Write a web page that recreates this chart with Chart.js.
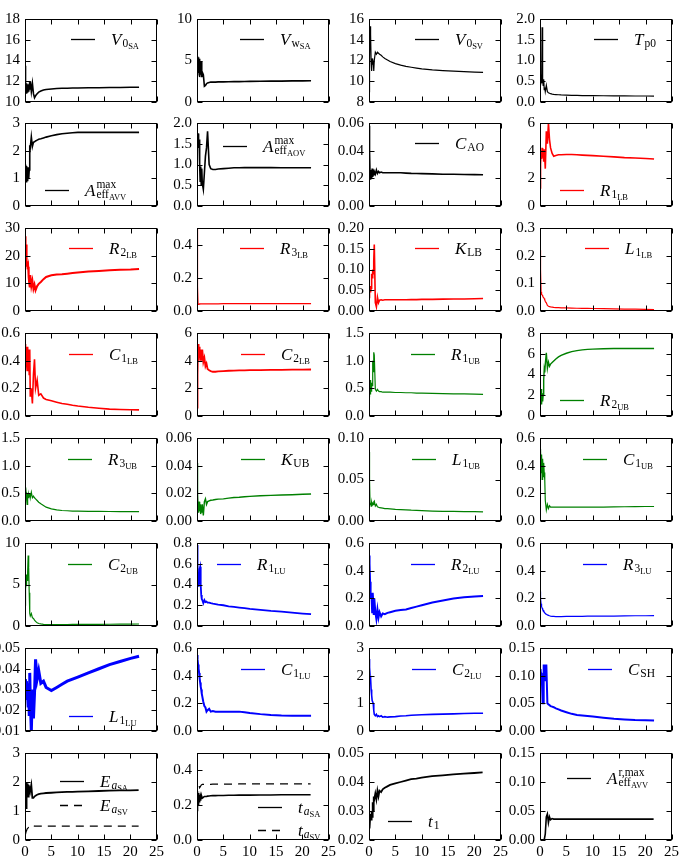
<!DOCTYPE html>
<html>
<head>
<meta charset="utf-8">
<script src="https://cdn.jsdelivr.net/npm/chart.js@4.4.0/dist/chart.umd.min.js"></script>
<style>
  html, body { margin: 0; padding: 0; background: #fff; }
  body { position: relative; width: 679px; height: 861px; overflow: hidden; }
  canvas { position: absolute; }
</style>
</head>
<body>
<script>
// ---------- Data ----------
const T = [0, 0.1, 0.2, 0.3, 0.4, 0.5, 0.6, 0.7, 0.8, 0.9, 1.0, 1.2, 1.4, 1.6, 1.8, 2.0, 2.3, 2.6, 3, 3.5, 4, 5, 6, 7, 8, 9, 10, 12, 14, 16, 18, 20, 21.6];
const X_TICKS = [0, 5, 10, 15, 20, 25];

const V0SA = [13.5, 11.0, 11.8, 10.8, 11.6, 10.9, 11.7, 11.0, 11.5, 11.2, 12.0, 11.0, 11.8, 10.8, 10.4, 10.6, 10.8, 10.95, 11.05, 11.15, 11.2, 11.25, 11.3, 11.32, 11.33, 11.35, 11.35, 11.37, 11.38, 11.4, 11.4, 11.42, 11.42];
const VWSA = [5.5, 3.2, 5.4, 3.5, 5.2, 3.0, 4.8, 3.3, 4.9, 3.0, 3.6, 3.3, 1.9, 2.0, 2.2, 2.3, 2.35, 2.4, 2.4, 2.4, 2.42, 2.43, 2.44, 2.45, 2.46, 2.47, 2.48, 2.5, 2.51, 2.52, 2.54, 2.55, 2.56];
const V0SV = [9.0, 12.0, 15.3, 14.5, 12.0, 11.0, 12.2, 11.6, 12.0, 11.0, 12.0, 12.8, 12.6, 12.8, 12.7, 12.6, 12.5, 12.35, 12.2, 12.05, 11.9, 11.7, 11.55, 11.43, 11.35, 11.27, 11.2, 11.1, 11.03, 10.97, 10.92, 10.88, 10.85];
const TP0 = [0.6, 0.4, 0.55, 0.45, 1.8, 0.5, 0.4, 0.55, 0.3, 0.35, 0.25, 0.4, 0.25, 0.22, 0.21, 0.2, 0.19, 0.185, 0.18, 0.175, 0.17, 0.165, 0.16, 0.158, 0.155, 0.153, 0.152, 0.15, 0.148, 0.146, 0.145, 0.144, 0.143];
const AEFF_AVV = [1.5, 1.0, 1.45, 0.85, 1.4, 0.9, 1.4, 1.0, 1.3, 2.2, 2.1, 2.5, 2.15, 2.3, 2.32, 2.35, 2.38, 2.41, 2.43, 2.46, 2.49, 2.54, 2.58, 2.61, 2.63, 2.65, 2.66, 2.66, 2.66, 2.66, 2.66, 2.66, 2.66];
const AEFF_AOV = [1.7, 1.45, 1.75, 1.4, 1.6, 1.0, 0.6, 0.95, 0.5, 0.9, 0.55, 0.4, 0.8, 1.2, 1.4, 1.8, 1.0, 0.9, 0.88, 0.88, 0.89, 0.9, 0.91, 0.92, 0.92, 0.925, 0.925, 0.925, 0.925, 0.92, 0.92, 0.92, 0.92];
const C_AO = [0.058, 0.04, 0.022, 0.019, 0.026, 0.02, 0.027, 0.021, 0.026, 0.022, 0.025, 0.023, 0.026, 0.0235, 0.025, 0.024, 0.0245, 0.024, 0.024, 0.024, 0.024, 0.024, 0.024, 0.0238, 0.0236, 0.0235, 0.0234, 0.0232, 0.023, 0.0229, 0.0228, 0.0227, 0.0226];
const R1_LB = [1.3, 3.0, 4.0, 3.4, 4.2, 3.5, 4.0, 3.2, 4.1, 3.5, 2.7, 5.4, 4.5, 6.0, 4.8, 4.2, 3.8, 3.6, 3.65, 3.7, 3.7, 3.72, 3.72, 3.7, 3.68, 3.66, 3.64, 3.6, 3.55, 3.5, 3.47, 3.43, 3.4];
const R2_LB = [27, 19, 24, 16, 18, 15, 16, 12, 10, 8.5, 13, 9, 11, 8, 9.5, 7.5, 9, 9.8, 10.5, 11.5, 12.3, 12.9, 13.2, 13.3, 13.5, 13.7, 13.9, 14.3, 14.5, 14.7, 14.9, 15.0, 15.2];
const R3_LB = [0.5, 0.15, 0.04, 0.042, 0.042, 0.043, 0.043, 0.043, 0.043, 0.043, 0.043, 0.043, 0.043, 0.043, 0.043, 0.043, 0.043, 0.043, 0.043, 0.043, 0.043, 0.044, 0.044, 0.044, 0.044, 0.044, 0.044, 0.044, 0.044, 0.044, 0.044, 0.044, 0.044];
const K_LB = [0.05, 0.045, 0.06, 0.045, 0.055, 0.09, 0.08, 0.1, 0.09, 0.12, 0.16, 0.02, 0.01, 0.033, 0.02, 0.026, 0.027, 0.026, 0.027, 0.027, 0.027, 0.027, 0.027, 0.027, 0.0275, 0.0275, 0.028, 0.028, 0.0285, 0.029, 0.029, 0.0295, 0.03];
const L1_LB = [0.22, 0.15, 0.07, 0.06, 0.058, 0.055, 0.05, 0.048, 0.045, 0.04, 0.035, 0.03, 0.02, 0.017, 0.016, 0.015, 0.014, 0.013, 0.012, 0.012, 0.011, 0.011, 0.0105, 0.01, 0.0098, 0.0095, 0.009, 0.0085, 0.008, 0.007, 0.0065, 0.006, 0.0055];
const C1_LB = [0.52, 0.4, 0.5, 0.38, 0.33, 0.5, 0.35, 0.48, 0.3, 0.48, 0.14, 0.2, 0.09, 0.3, 0.41, 0.2, 0.26, 0.15, 0.16, 0.13, 0.12, 0.11, 0.1, 0.09, 0.085, 0.078, 0.072, 0.063, 0.056, 0.05, 0.047, 0.045, 0.044];
const C2_LB = [0.6, 3.0, 5.2, 4.0, 5.0, 4.2, 4.8, 4.0, 4.6, 4.0, 4.8, 3.9, 4.2, 3.6, 3.8, 3.4, 3.3, 3.25, 3.2, 3.2, 3.22, 3.25, 3.27, 3.28, 3.3, 3.3, 3.31, 3.32, 3.33, 3.34, 3.35, 3.35, 3.36];
const R1_UB = [0.35, 0.6, 0.4, 0.65, 0.45, 0.6, 0.55, 1.0, 0.8, 1.15, 1.1, 0.48, 0.45, 0.48, 0.45, 0.44, 0.44, 0.43, 0.43, 0.43, 0.43, 0.425, 0.425, 0.42, 0.42, 0.415, 0.415, 0.41, 0.405, 0.4, 0.4, 0.395, 0.39];
const R2_UB = [2.5, 1.2, 2.6, 1.1, 2.2, 1.4, 2.0, 3.5, 4.5, 4.2, 5.0, 6.1, 4.6, 5.2, 4.8, 5.0, 5.15, 5.3, 5.5, 5.7, 5.85, 6.05, 6.2, 6.3, 6.37, 6.42, 6.45, 6.48, 6.5, 6.5, 6.5, 6.5, 6.5];
const R3_UB = [0.58, 0.45, 0.52, 0.4, 0.3, 0.5, 0.42, 0.48, 0.44, 0.5, 0.42, 0.52, 0.42, 0.45, 0.42, 0.4, 0.37, 0.34, 0.31, 0.28, 0.25, 0.22, 0.2, 0.19, 0.185, 0.18, 0.178, 0.175, 0.173, 0.172, 0.171, 0.17, 0.17];
const K_UB = [0.042, 0.02, 0.01, 0.006, 0.014, 0.007, 0.012, 0.005, 0.01, 0.006, 0.012, 0.004, 0.014, 0.016, 0.012, 0.014, 0.0145, 0.015, 0.0152, 0.0155, 0.0158, 0.016, 0.0165, 0.017, 0.0172, 0.0175, 0.0178, 0.0182, 0.0185, 0.0188, 0.019, 0.0193, 0.0195];
const L1_UB = [0.083, 0.05, 0.02, 0.022, 0.018, 0.022, 0.019, 0.021, 0.02, 0.023, 0.024, 0.018, 0.02, 0.017, 0.0165, 0.016, 0.0158, 0.0155, 0.015, 0.0148, 0.0145, 0.014, 0.0137, 0.0134, 0.013, 0.0128, 0.0125, 0.012, 0.0117, 0.0115, 0.0113, 0.0112, 0.011];
const C1_UB = [0.5, 0.52, 0.35, 0.48, 0.3, 0.45, 0.32, 0.42, 0.35, 0.3, 0.15, 0.08, 0.12, 0.09, 0.11, 0.1, 0.1, 0.1, 0.1, 0.1, 0.1, 0.1, 0.1, 0.1, 0.1, 0.1, 0.1, 0.101, 0.102, 0.103, 0.104, 0.105, 0.105];
const C2_UB = [2.5, 4.5, 5.0, 6.2, 5.5, 6.5, 8.5, 7.0, 4.0, 1.5, 1.2, 1.5, 1.0, 0.9, 0.7, 0.55, 0.4, 0.3, 0.25, 0.2, 0.18, 0.17, 0.17, 0.18, 0.18, 0.19, 0.19, 0.2, 0.2, 0.21, 0.22, 0.23, 0.24];
const R1_LU = [0.78, 0.6, 0.45, 0.38, 0.45, 0.55, 0.57, 0.4, 0.3, 0.26, 0.25, 0.22, 0.25, 0.23, 0.235, 0.225, 0.225, 0.22, 0.215, 0.21, 0.205, 0.2, 0.19, 0.185, 0.178, 0.172, 0.165, 0.155, 0.145, 0.138, 0.128, 0.12, 0.115];
const R2_LU = [0.51, 0.45, 0.32, 0.2, 0.22, 0.2, 0.1, 0.24, 0.18, 0.08, 0.2, 0.1, 0.05, 0.12, 0.06, 0.1, 0.07, 0.09, 0.085, 0.095, 0.1, 0.11, 0.115, 0.12, 0.13, 0.14, 0.15, 0.17, 0.185, 0.198, 0.207, 0.213, 0.216];
const R3_LU = [0.25, 0.2, 0.16, 0.14, 0.13, 0.12, 0.115, 0.11, 0.1, 0.095, 0.09, 0.085, 0.08, 0.077, 0.074, 0.072, 0.07, 0.069, 0.068, 0.068, 0.068, 0.069, 0.069, 0.07, 0.07, 0.071, 0.071, 0.072, 0.072, 0.073, 0.074, 0.074, 0.075];
const L1_LU = [0.035, 0.025, 0.034, 0.03, 0.033, 0.027, 0.022, 0.033, 0.018, 0.038, 0.025, 0.01, 0.03, 0.016, 0.028, 0.0445, 0.035, 0.039, 0.033, 0.034, 0.031, 0.0295, 0.031, 0.0325, 0.034, 0.035, 0.036, 0.038, 0.04, 0.042, 0.0435, 0.045, 0.046];
const C1_LU = [0.55, 0.52, 0.48, 0.45, 0.42, 0.38, 0.35, 0.32, 0.3, 0.27, 0.25, 0.21, 0.18, 0.17, 0.14, 0.15, 0.16, 0.14, 0.145, 0.14, 0.14, 0.14, 0.14, 0.14, 0.14, 0.135, 0.13, 0.122, 0.116, 0.112, 0.11, 0.11, 0.11];
const C2_LU = [2.6, 2.3, 2.0, 1.9, 1.5, 1.3, 1.1, 1.1, 1.0, 0.75, 0.6, 0.55, 0.6, 0.52, 0.55, 0.52, 0.55, 0.5, 0.52, 0.5, 0.51, 0.52, 0.54, 0.55, 0.57, 0.58, 0.59, 0.6, 0.61, 0.62, 0.63, 0.64, 0.64];
const C_SH = [0.1, 0.112, 0.1, 0.105, 0.08, 0.05, 0.05, 0.12, 0.1, 0.12, 0.09, 0.12, 0.05, 0.048, 0.047, 0.045, 0.044, 0.043, 0.041, 0.039, 0.037, 0.034, 0.031, 0.029, 0.028, 0.027, 0.026, 0.024, 0.022, 0.021, 0.02, 0.0195, 0.019];
const EA_SA = [1.7, 1.4, 1.1, 2.0, 1.6, 1.95, 1.5, 1.9, 1.6, 1.85, 1.7, 1.9, 1.45, 1.45, 1.5, 1.53, 1.56, 1.58, 1.6, 1.61, 1.62, 1.63, 1.64, 1.65, 1.66, 1.66, 1.67, 1.68, 1.69, 1.7, 1.71, 1.71, 1.72];
const EA_SV = [null, 0.2, 0.28, 0.33, 0.38, 0.4, 0.42, 0.45, 0.48, 0.5, 0.5, 0.5, 0.49, 0.49, 0.48, 0.48, 0.48, 0.48, 0.48, 0.48, 0.48, 0.48, 0.48, 0.48, 0.48, 0.48, 0.48, 0.48, 0.48, 0.48, 0.48, 0.48, 0.48];
const TA_SA = [0.17, 0.28, 0.2, 0.27, 0.22, 0.26, 0.23, 0.25, 0.24, 0.25, 0.24, 0.245, 0.25, 0.25, 0.25, 0.252, 0.253, 0.254, 0.255, 0.255, 0.256, 0.256, 0.257, 0.257, 0.258, 0.258, 0.258, 0.259, 0.259, 0.26, 0.26, 0.26, 0.26];
const TA_SV = [null, null, null, null, 0.31, 0.3, 0.305, 0.31, 0.315, 0.318, 0.32, 0.32, 0.32, 0.32, 0.32, 0.32, 0.32, 0.32, 0.321, 0.321, 0.321, 0.321, 0.321, 0.321, 0.322, 0.322, 0.322, 0.322, 0.322, 0.322, 0.322, 0.322, 0.322];
const T_1 = [0.025, 0.024, 0.027, 0.029, 0.027, 0.03, 0.028, 0.033, 0.03, 0.035, 0.034, 0.036, 0.034, 0.037, 0.035, 0.037, 0.0365, 0.0375, 0.038, 0.0385, 0.039, 0.0395, 0.04, 0.0405, 0.041, 0.0412, 0.0415, 0.042, 0.0423, 0.0426, 0.0429, 0.0431, 0.0433];
const AR_AVV = [0, 0, 0, 0, 0, 0, 0, 0, 0, 0, 0.01, 0.04, 0.045, 0.03, 0.04, 0.035, 0.037, 0.036, 0.036, 0.036, 0.036, 0.036, 0.036, 0.036, 0.036, 0.036, 0.036, 0.036, 0.036, 0.036, 0.036, 0.036, 0.036];

// ---------- Y tick values ----------
const YT_10_18 = [10, 12, 14, 16, 18];
const YT_0_10 = [0, 5, 10];
const YT_8_16 = [8, 10, 12, 14, 16];
const YT_0_2 = [0, 0.5, 1, 1.5, 2];
const YT_0_3 = [0, 1, 2, 3];
const YT_0_006 = [0, 0.02, 0.04, 0.06];
const YT_0_6 = [0, 2, 4, 6];
const YT_0_30 = [0, 10, 20, 30];
const YT_0_04 = [0, 0.2, 0.4];
const YT_0_02 = [0, 0.05, 0.1, 0.15, 0.2];
const YT_0_03 = [0, 0.1, 0.2, 0.3];
const YT_0_06 = [0, 0.2, 0.4, 0.6];
const YT_0_15 = [0, 0.5, 1, 1.5];
const YT_0_8 = [0, 2, 4, 6, 8];
const YT_0_01 = [0, 0.05, 0.1];
const YT_0_08 = [0, 0.2, 0.4, 0.6, 0.8];
const YT_001_005 = [0.01, 0.02, 0.03, 0.04, 0.05];
const YT_0_015 = [0, 0.05, 0.1, 0.15];
const YT_002_005 = [0.02, 0.03, 0.04, 0.05];

// ---------- Look ----------
const K = "#000000", RED = "#ff0000", GRN = "#008000", BLU = "#0000ff";
const SERIF = "'Liberation Serif', 'DejaVu Serif', serif";
const COL_LEFT = [25, 197, 369, 540];
const ROW_TOP = [15, 119, 224, 329, 434, 539, 644, 749];
const PW = 132, PH = 91;

// legend label as math-ish segments: main_{s1_{s2}}^{sup}
function mk(main, s1, s2, sup, s1Italic) {
  const segs = [{ t: main, lvl: 0, it: true }];
  if (sup) segs.push({ t: sup, lvl: -1, keep: true });
  if (s1) segs.push({ t: s1, lvl: 1, it: !!s1Italic });
  if (s2) segs.push({ t: s2, lvl: 2 });
  return segs;
}

// each panel: series [data, colour, dashed, width], y range, ticks, decimals, legend
const PANELS = [
  { s: [[V0SA, K, false, 1.6]], y: [10, 18], yt: YT_10_18, d: 0, lab: [mk("V", "0", "SA")], lx: 46, ly: [20] },
  { s: [[VWSA, K, false, 1.6]], y: [0, 10], yt: YT_0_10, d: 0, lab: [mk("V", "w", "SA")], lx: 43, ly: [20] },
  { s: [[V0SV, K]], y: [8, 16], yt: YT_8_16, d: 0, lab: [mk("V", "0", "SV")], lx: 46, ly: [20] },
  { s: [[TP0, K]], y: [0, 2], yt: YT_0_2, d: 1, lab: [mk("T", "p0")], lx: 54, ly: [20] },

  { s: [[AEFF_AVV, K, false, 1.6]], y: [0, 3], yt: YT_0_3, d: 0, lab: [mk("A", "eff", "AVV", "max")], lx: 20, ly: [67] },
  { s: [[AEFF_AOV, K, false, 1.6]], y: [0, 2], yt: YT_0_2, d: 1, lab: [mk("A", "eff", "AOV", "max")], lx: 26, ly: [23] },
  { s: [[C_AO, K, false, 1.6]], y: [0, 0.06], yt: YT_0_006, d: 2, lab: [mk("C", "AO")], lx: 46, ly: [20] },
  { s: [[R1_LB, RED, false, 1.6]], y: [0, 6], yt: YT_0_6, d: 0, lab: [mk("R", "1", "LB")], lx: 20, ly: [67] },

  { s: [[R2_LB, RED, false, 2]], y: [0, 30], yt: YT_0_30, d: 0, lab: [mk("R", "2", "LB")], lx: 44, ly: [20] },
  { s: [[R3_LB, RED]], y: [0, 0.5], yt: YT_0_04, d: 1, lab: [mk("R", "3", "LB")], lx: 43, ly: [20] },
  { s: [[K_LB, RED, false, 1.6]], y: [0, 0.2], yt: YT_0_02, d: 2, lab: [mk("K", "LB")], lx: 46, ly: [20] },
  { s: [[L1_LB, RED]], y: [0, 0.3], yt: YT_0_03, d: 1, lab: [mk("L", "1", "LB")], lx: 45, ly: [20] },

  { s: [[C1_LB, RED, false, 1.6]], y: [0, 0.6], yt: YT_0_06, d: 1, lab: [mk("C", "1", "LB")], lx: 44, ly: [21] },
  { s: [[C2_LB, RED, false, 1.8]], y: [0, 6], yt: YT_0_6, d: 0, lab: [mk("C", "2", "LB")], lx: 44, ly: [21] },
  { s: [[R1_UB, GRN]], y: [0, 1.5], yt: YT_0_15, d: 1, lab: [mk("R", "1", "UB")], lx: 42, ly: [21] },
  { s: [[R2_UB, GRN, false, 1.4]], y: [0, 8], yt: YT_0_8, d: 0, lab: [mk("R", "2", "UB")], lx: 20, ly: [67] },

  { s: [[R3_UB, GRN]], y: [0, 1.5], yt: YT_0_15, d: 1, lab: [mk("R", "3", "UB")], lx: 43, ly: [21] },
  { s: [[K_UB, GRN, false, 1.4]], y: [0, 0.06], yt: YT_0_006, d: 2, lab: [mk("K", "UB")], lx: 44, ly: [21] },
  { s: [[L1_UB, GRN]], y: [0, 0.1], yt: YT_0_01, d: 2, lab: [mk("L", "1", "UB")], lx: 43, ly: [21] },
  { s: [[C1_UB, GRN]], y: [0, 0.6], yt: YT_0_06, d: 1, lab: [mk("C", "1", "UB")], lx: 43, ly: [21] },

  { s: [[C2_UB, GRN]], y: [0, 10], yt: YT_0_10, d: 0, lab: [mk("C", "2", "UB")], lx: 43, ly: [21] },
  { s: [[R1_LU, BLU, false, 1.8]], y: [0, 0.8], yt: YT_0_08, d: 1, lab: [mk("R", "1", "LU")], lx: 20, ly: [21] },
  { s: [[R2_LU, BLU, false, 2]], y: [0, 0.6], yt: YT_0_06, d: 1, lab: [mk("R", "2", "LU")], lx: 42, ly: [21] },
  { s: [[R3_LU, BLU]], y: [0, 0.6], yt: YT_0_06, d: 1, lab: [mk("R", "3", "LU")], lx: 43, ly: [21] },

  { s: [[L1_LU, BLU, false, 3]], y: [0.01, 0.05], yt: YT_001_005, d: 2, lab: [mk("L", "1", "LU")], lx: 44, ly: [68] },
  { s: [[C1_LU, BLU, false, 2]], y: [0, 0.6], yt: YT_0_06, d: 1, lab: [mk("C", "1", "LU")], lx: 44, ly: [21] },
  { s: [[C2_LU, BLU, false, 1.6]], y: [0, 3], yt: YT_0_3, d: 0, lab: [mk("C", "2", "LU")], lx: 43, ly: [21] },
  { s: [[C_SH, BLU, false, 2]], y: [0, 0.15], yt: YT_0_015, d: 2, lab: [mk("C", "SH")], lx: 48, ly: [21] },

  { s: [[EA_SA, K, false, 1.8], [EA_SV, K, true]], y: [0, 3], yt: YT_0_3, d: 0,
    lab: [mk("E", "a", "SA", null, true), mk("E", "a", "SV", null, true)], lx: 35, ly: [28, 52] },
  { s: [[TA_SA, K, false, 1.6], [TA_SV, K, true]], y: [0, 0.5], yt: YT_0_04, d: 1,
    lab: [mk("t", "a", "SA", null, true), mk("t", "a", "SV", null, true)], lx: 61, ly: [54, 77] },
  { s: [[T_1, K, false, 1.8]], y: [0.02, 0.05], yt: YT_002_005, d: 2, lab: [mk("t", "1")], lx: 19, ly: [68] },
  { s: [[AR_AVV, K, false, 1.6]], y: [0, 0.15], yt: YT_0_015, d: 2, lab: [mk("A", "eff", "AVV", "r,max")], lx: 27, ly: [25] },
];

// ---------- Plugins ----------
// full box + inward ticks on every side (matplotlib classic look)
const frameTicks = {
  id: "frameTicks",
  afterDatasetsDraw(chart) {
    const { ctx, chartArea: a, scales: { x, y } } = chart;
    const L = Math.round(a.left) + 0.5, R = Math.round(a.right) - 0.5;
    const Tp = Math.round(a.top) + 0.5, B = Math.round(a.bottom) - 0.5;
    ctx.save();
    ctx.strokeStyle = "#000";
    ctx.lineWidth = 1;
    ctx.strokeRect(L, Tp, R - L, B - Tp);
    ctx.beginPath();
    y.ticks.forEach((t) => {
      const py = Math.round(y.getPixelForValue(t.value)) + 0.5;
      ctx.moveTo(L, py); ctx.lineTo(L + 5, py);
      ctx.moveTo(R, py); ctx.lineTo(R - 5, py);
    });
    x.ticks.forEach((t) => {
      const px = Math.round(x.getPixelForValue(t.value)) + 0.5;
      ctx.moveTo(px, B); ctx.lineTo(px, B - 5);
      ctx.moveTo(px, Tp); ctx.lineTo(px, Tp + 5);
    });
    ctx.stroke();
    ctx.restore();
  },
};

const SIZE = { "0": 17, "1": 11.5, "2": 8.5, "-1": 11.5 };
const SHIFT = { "0": 0, "1": 2.5, "2": 4.5, "-1": -8 };

function drawMath(ctx, x, y, segs) {
  let cx = x;
  segs.forEach((sg) => {
    ctx.font = (sg.it ? "italic " : "") + SIZE[sg.lvl] + "px " + SERIF;
    ctx.fillText(sg.t, cx, y + SHIFT[sg.lvl]);
    if (!sg.keep) cx += ctx.measureText(sg.t).width + (sg.lvl === 0 ? 1 : 0);
  });
}

const mathLegend = {
  id: "mathLegend",
  afterDraw(chart, args, opts) {
    if (!opts.items) return;
    const { ctx, chartArea: a } = chart;
    ctx.save();
    opts.items.forEach((it, i) => {
      const ly = Math.round(a.top + opts.ys[i]) + 0.5;
      const x0 = a.left + opts.lx;
      ctx.strokeStyle = it.color;
      ctx.lineWidth = 1.3;
      ctx.setLineDash(it.dashed ? [8, 6] : []);
      ctx.beginPath();
      ctx.moveTo(x0, ly);
      ctx.lineTo(x0 + 24, ly);
      ctx.stroke();
      ctx.setLineDash([]);
      ctx.fillStyle = "#000";
      ctx.textBaseline = "alphabetic";
      drawMath(ctx, x0 + 40, ly + 5, it.segs);
    });
    ctx.restore();
  },
};

// ---------- Build ----------
function buildPanel(p, idx) {
  const row = Math.floor(idx / 4), col = idx % 4;
  const last = row === ROW_TOP.length - 1;
  const padL = 50, padT = 10, padR = 10, padB = 10, xh = last ? 20 : 0;

  const canvas = document.createElement("canvas");
  const w = padL + PW + padR, h = padT + PH + xh + padB;
  canvas.width = w;
  canvas.height = h;
  canvas.style.width = w + "px";
  canvas.style.height = h + "px";
  canvas.style.left = COL_LEFT[col] - padL + "px";
  canvas.style.top = ROW_TOP[row] - padT + "px";
  document.body.appendChild(canvas);

  const tickFont = { family: SERIF, size: 15 };
  const datasets = p.s.map(([vals, color, dashed, width]) => ({
    data: T.map((t, i) => ({ x: t, y: vals[i] })),
    borderColor: color,
    borderWidth: width || 1.2,
    borderDash: dashed ? [8, 6] : [],
    pointRadius: 0,
    tension: 0,
    spanGaps: false,
  }));

  new Chart(canvas, {
    type: "line",
    data: { datasets },
    options: {
      responsive: false,
      animation: false,
      devicePixelRatio: 1,
      events: [],
      layout: { padding: { left: 0, top: padT, right: padR, bottom: padB } },
      scales: {
        x: {
          type: "linear",
          min: 0,
          max: 25,
          afterBuildTicks: (s) => { s.ticks = X_TICKS.map((v) => ({ value: v })); },
          afterFit: (s) => { s.height = xh; },
          grid: { display: false, drawTicks: false },
          border: { display: false },
          ticks: { display: last, font: tickFont, color: "#000", padding: 3, autoSkip: false, maxRotation: 0, callback: (v) => String(v) },
        },
        y: {
          type: "linear",
          min: p.y[0],
          max: p.y[1],
          afterBuildTicks: (s) => { s.ticks = p.yt.map((v) => ({ value: v })); },
          afterFit: (s) => { s.width = padL; },
          grid: { display: false, drawTicks: false },
          border: { display: false },
          ticks: { font: tickFont, color: "#000", padding: 5, autoSkip: false, callback: (v) => Number(v).toFixed(p.d) },
        },
      },
      plugins: {
        legend: { display: false },
        tooltip: { enabled: false },
        mathLegend: {
          lx: p.lx,
          ys: p.ly,
          items: p.lab.map((segs, i) => ({ segs, color: p.s[i][1], dashed: !!p.s[i][2] })),
        },
      },
    },
    plugins: [frameTicks, mathLegend],
  });
}

PANELS.forEach(buildPanel);
</script>
</body>
</html>
